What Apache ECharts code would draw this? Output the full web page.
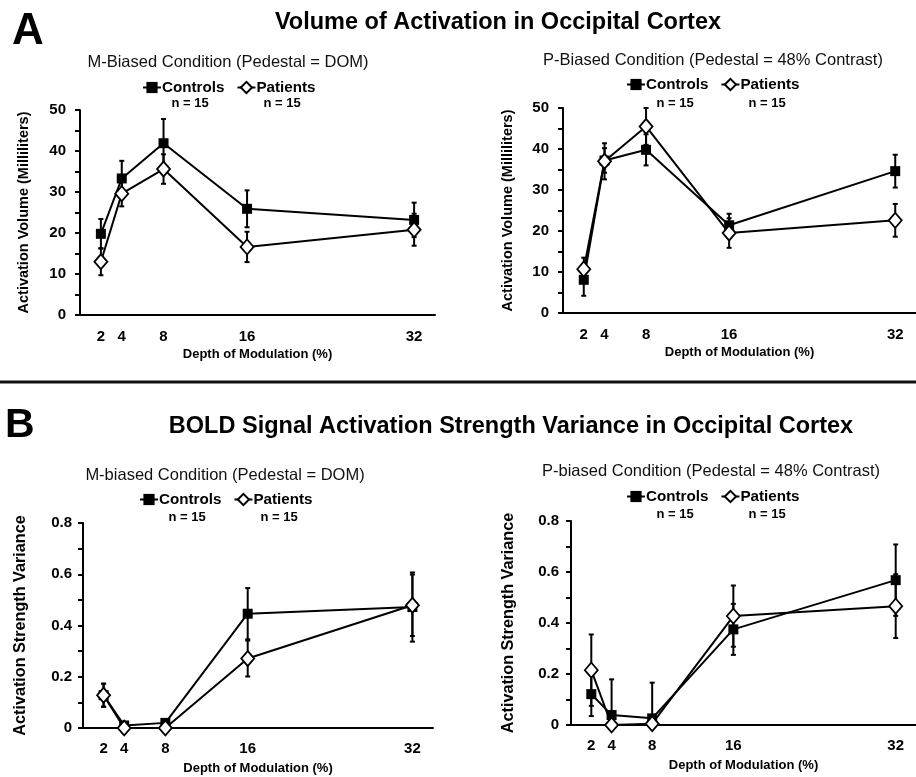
<!DOCTYPE html>
<html>
<head>
<meta charset="utf-8">
<script src="https://cdn.jsdelivr.net/npm/echarts@6/dist/echarts.min.js"></script>
<style>html,body{margin:0;padding:0;background:#fff}#c{width:916px;height:777px}</style>
</head>
<body>
<div id="c"></div>
<script>
// ---------- data ----------
const depth = [2, 4, 8, 16, 32];
const volTickStep = 10;
const varTickStep = 0.2;

// Panel A (Volume of activation, ml)
const volMControls = [19.8, 33.3, 41.9, 25.9, 23.2];
const volMControlsErr = [3.6, 4.3, 5.9, 4.5, 4.2];
const volMPatients = [13.0, 29.6, 35.6, 16.6, 20.8];
const volMPatientsErr = [3.3, 3.1, 3.6, 3.7, 3.9];
const volPControls = [8.1, 37.2, 39.8, 21.4, 34.6];
const volPControlsErr = [3.9, 3.0, 3.8, 2.8, 4.0];
const volPPatients = [10.7, 37.0, 45.5, 19.5, 22.6];
const volPPatientsErr = [2.8, 4.4, 4.5, 3.6, 4.0];

// Panel B (Activation strength variance)
const varMControls = [0.128, 0.010, 0.020, 0.446, 0.472];
const varMControlsErr = [0.045, 0.004, 0.004, 0.100, 0.135];
const varMPatients = [0.128, 0.000, 0.000, 0.271, 0.479];
const varMPatientsErr = [0.045, 0.000, 0.000, 0.070, 0.120];
const varPControls = [0.121, 0.039, 0.026, 0.375, 0.568];
const varPControlsErr = [0.086, 0.140, 0.140, 0.100, 0.140];
const varPPatients = [0.215, 0.000, 0.005, 0.427, 0.466];
const varPPatientsErr = [0.140, 0.000, 0.000, 0.120, 0.125];

const groupNames = ['Controls', 'Patients'];
const nLabel = ['n = 15', 'n = 15'];

// ---------- styling / layout ----------
const FF = "'Liberation Sans', Arial, sans-serif";
const INK = '#000';

const panels = [
  {grid:{left:80, top:110, width:355, height:205}, yMax:50, step:5, labelStep:volTickStep,
   yName:'Activation Volume (Milliliters)', yNameGap:49, yNameSize:14.5, yLabelMargin:14, xLabelMargin:14, xNameGap:33,
   c:volMControls, ce:volMControlsErr, p:volMPatients, pe:volMPatientsErr,
   legend:{left:142, top:80}, n:[[190,103],[282,103]], sub:{x:228, y:62, text:'M-Biased Condition (Pedestal = DOM)'}},
  {grid:{left:563, top:108, width:356, height:205}, yMax:50, step:5, labelStep:volTickStep,
   yName:'Activation Volume (Milliliters)', yNameGap:48, yNameSize:14.5, yLabelMargin:14, xLabelMargin:14, xNameGap:33,
   c:volPControls, ce:volPControlsErr, p:volPPatients, pe:volPPatientsErr,
   legend:{left:626, top:77}, n:[[675,103],[767,103]], sub:{x:713, y:60, text:'P-Biased Condition (Pedestal = 48% Contrast)'}},
  {grid:{left:83, top:523, width:350, height:205}, yMax:0.8, step:0.1, labelStep:varTickStep,
   yName:'Activation Strength Variance', yNameGap:54, yNameSize:16.2, yLabelMargin:11, xLabelMargin:13, xNameGap:34,
   c:varMControls, ce:varMControlsErr, p:varMPatients, pe:varMPatientsErr,
   legend:{left:139, top:492}, n:[[187,517],[279,517]], sub:{x:225, y:475, text:'M-biased Condition (Pedestal = DOM)'}},
  {grid:{left:571, top:521, width:350, height:204}, yMax:0.8, step:0.1, labelStep:varTickStep,
   yName:'Activation Strength Variance', yNameGap:54, yNameSize:16.2, yLabelMargin:12, xLabelMargin:13, xNameGap:34,
   c:varPControls, ce:varPControlsErr, p:varPPatients, pe:varPPatientsErr,
   legend:{left:626, top:489}, n:[[675,514],[767,514]], sub:{x:711, y:471, text:'P-biased Condition (Pedestal = 48% Contrast)'}}
];

function errRender(params, api) {
  const x = api.value(0), lo = api.value(1), hi = api.value(2);
  const pLo = api.coord([x, lo]);
  const pHi = api.coord([x, hi]);
  const cap = 2.5;
  const st = {stroke: INK, lineWidth: 2};
  const kids = [
    {type:'line', shape:{x1:pLo[0], y1:pLo[1], x2:pHi[0], y2:pHi[1]}, style:st},
    {type:'line', shape:{x1:pHi[0]-cap, y1:pHi[1], x2:pHi[0]+cap, y2:pHi[1]}, style:st}
  ];
  if (lo > 0) kids.push({type:'line', shape:{x1:pLo[0]-cap, y1:pLo[1], x2:pLo[0]+cap, y2:pLo[1]}, style:st});
  return {type:'group', children:kids};
}

const grid = [], xAxis = [], yAxis = [], series = [], legend = [], title = [], graphic = [];

title.push({text:'A', left:12, top:32, padding:0, textVerticalAlign:'middle', textStyle:{fontFamily:FF, fontSize:44, fontWeight:'bold', color:INK}});
title.push({text:'Volume of Activation in Occipital Cortex', left:498, top:23, padding:0, textAlign:'center', textVerticalAlign:'middle', textStyle:{fontFamily:FF, fontSize:23.5, fontWeight:'bold', color:INK}});
title.push({text:'B', left:5, top:426, padding:0, textVerticalAlign:'middle', textStyle:{fontFamily:FF, fontSize:41, fontWeight:'bold', color:INK}});
title.push({text:'BOLD Signal Activation Strength Variance in Occipital Cortex', left:511, top:427, padding:0, textAlign:'center', textVerticalAlign:'middle', textStyle:{fontFamily:FF, fontSize:23.5, fontWeight:'bold', color:INK}});

graphic.push({type:'line', shape:{x1:0, y1:382, x2:916, y2:382}, style:{stroke:'#111', lineWidth:3}});

panels.forEach((pn, i) => {
  grid.push(Object.assign({}, pn.grid));
  title.push({text:pn.sub.text, left:pn.sub.x, top:pn.sub.y, padding:0, textAlign:'center', textVerticalAlign:'middle',
    textStyle:{fontFamily:FF, fontSize:16.5, fontWeight:'normal', color:'#111'}});
  xAxis.push({
    type:'value', gridIndex:i, min:0, max:34,
    name:'Depth of Modulation (%)', nameLocation:'middle', nameGap:pn.xNameGap,
    nameTextStyle:{fontFamily:FF, fontSize:13, fontWeight:'bold', color:INK},
    axisLine:{show:true, onZero:false, lineStyle:{color:INK, width:2}},
    axisTick:{show:false},
    splitLine:{show:false},
    axisLabel:{customValues:depth, margin:pn.xLabelMargin, fontFamily:FF, fontSize:15, fontWeight:'bold', color:INK}
  });
  yAxis.push({
    type:'value', gridIndex:i, min:0, max:pn.yMax, interval:pn.step,
    name:pn.yName, nameLocation:'middle', nameGap:pn.yNameGap,
    nameTextStyle:{fontFamily:FF, fontSize:pn.yNameSize, fontWeight:'bold', color:INK},
    axisLine:{show:true, lineStyle:{color:INK, width:2}},
    axisTick:{show:true, length:5, lineStyle:{color:INK, width:2}},
    splitLine:{show:false},
    axisLabel:{margin:pn.yLabelMargin, fontFamily:FF, fontSize:15, fontWeight:'bold', color:INK,
      formatter:(v) => {
        const k = v / pn.labelStep;
        return Math.abs(k - Math.round(k)) < 1e-6 ? String(Math.round(v * 10) / 10) : '';
      }}
  });
  const mk = (vals, errs) => depth.map((d, j) => [d, Math.max(0, vals[j] - errs[j]), vals[j] + errs[j]]);
  series.push({type:'line', name:'Controls', xAxisIndex:i, yAxisIndex:i, data:depth.map((d, j) => [d, pn.c[j]]),
    symbol:'rect', symbolSize:10, lineStyle:{color:INK, width:2}, itemStyle:{color:INK, borderColor:INK, borderWidth:0}, z:3, animation:false});
  series.push({type:'line', name:'Patients', xAxisIndex:i, yAxisIndex:i, data:depth.map((d, j) => [d, pn.p[j]]),
    symbol:'diamond', symbolSize:[13,15], lineStyle:{color:INK, width:2}, itemStyle:{color:'#fff', borderColor:INK, borderWidth:1.8}, z:4, animation:false});
  series.push({type:'custom', name:'Controls SEM', xAxisIndex:i, yAxisIndex:i, renderItem:errRender, data:mk(pn.c, pn.ce), encode:{x:0, y:[1,2]}, z:2, silent:true});
  series.push({type:'custom', name:'Patients SEM', xAxisIndex:i, yAxisIndex:i, renderItem:errRender, data:mk(pn.p, pn.pe), encode:{x:0, y:[1,2]}, z:2, silent:true});
  legend.push({
    left:pn.legend.left, top:pn.legend.top, padding:0, itemGap:12, itemWidth:18, itemHeight:14, selectedMode:false,
    data:groupNames,
    textStyle:{fontFamily:FF, fontSize:15.2, fontWeight:'bold', color:INK, padding:[0,0,0,-4]}
  });
  pn.n.forEach((pos, k) => {
    graphic.push({type:'text', x:pos[0], y:pos[1], style:{text:nLabel[k], align:'center', verticalAlign:'middle', fill:INK, font:"bold 13px " + FF}});
  });
});

const chart = echarts.init(document.getElementById('c'), null, {renderer:'canvas'});
chart.setOption({animation:false, backgroundColor:'#fff', title, grid, xAxis, yAxis, series, legend, graphic});
</script>
</body>
</html>
